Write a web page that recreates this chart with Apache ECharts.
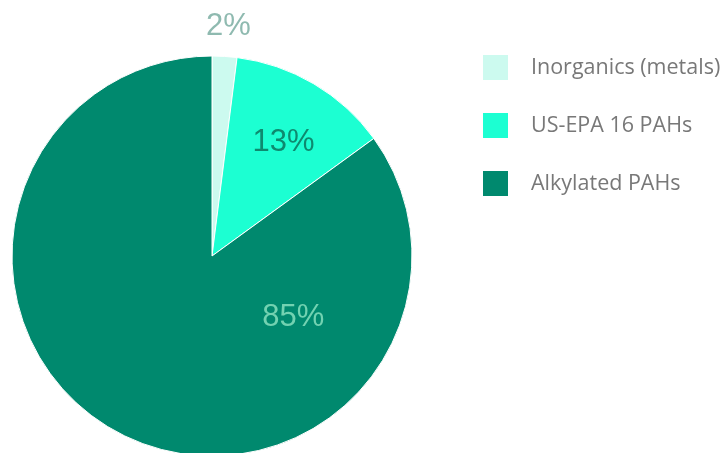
<!DOCTYPE html>
<html>
<head>
<meta charset="utf-8">
<script src="https://cdn.jsdelivr.net/npm/echarts@6/dist/echarts.min.js"></script>
<style>
  html, body { margin: 0; padding: 0; background: #ffffff; }
  #chart { width: 726px; height: 453px; }
</style>
</head>
<body>
<div id="chart"></div>
<script>
// Composition shares (percent)
const categories = ['Inorganics (metals)', 'US-EPA 16 PAHs', 'Alkylated PAHs'];
const shares = [2, 13, 85];
const sliceColors = ['#ccfaef', '#1cffd2', '#00896e'];
const labelColors = ['#8fbab0', '#0e8a6f', '#72d2b1'];
// label nudges away from the default mid-radius position
const labelOffsets = [[10, -127], [19, -25], [128, -30]];

const chart = echarts.init(document.getElementById('chart'), null, { renderer: 'canvas' });

const data = categories.map((name, i) => ({
  name,
  value: shares[i],
  itemStyle: { color: sliceColors[i] },
  label: { color: labelColors[i], offset: labelOffsets[i] }
}));

chart.setOption({
  animation: false,
  backgroundColor: '#ffffff',
  legend: {
    orient: 'vertical',
    left: 483,
    top: 55,
    padding: 0,
    icon: 'rect',
    itemWidth: 25,
    itemHeight: 25,
    itemGap: 33,
    itemStyle: { borderWidth: 0 },
    textStyle: {
      fontFamily: 'Open Sans',
      fontSize: 21.5,
      color: '#787878',
      padding: [0, 0, 0, 18]
    },
    data: categories
  },
  series: [{
    type: 'pie',
    center: [212, 256],
    radius: 200,
    startAngle: 90,
    clockwise: true,
    avoidLabelOverlap: false,
    itemStyle: { borderColor: '#ffffff', borderWidth: 1 },
    label: {
      show: true,
      position: 'inside',
      formatter: '{c}%',
      fontFamily: 'Liberation Sans',
      fontSize: 31,
      fontWeight: 'normal'
    },
    labelLine: { show: false },
    emphasis: { disabled: true },
    data
  }]
});
</script>
</body>
</html>
